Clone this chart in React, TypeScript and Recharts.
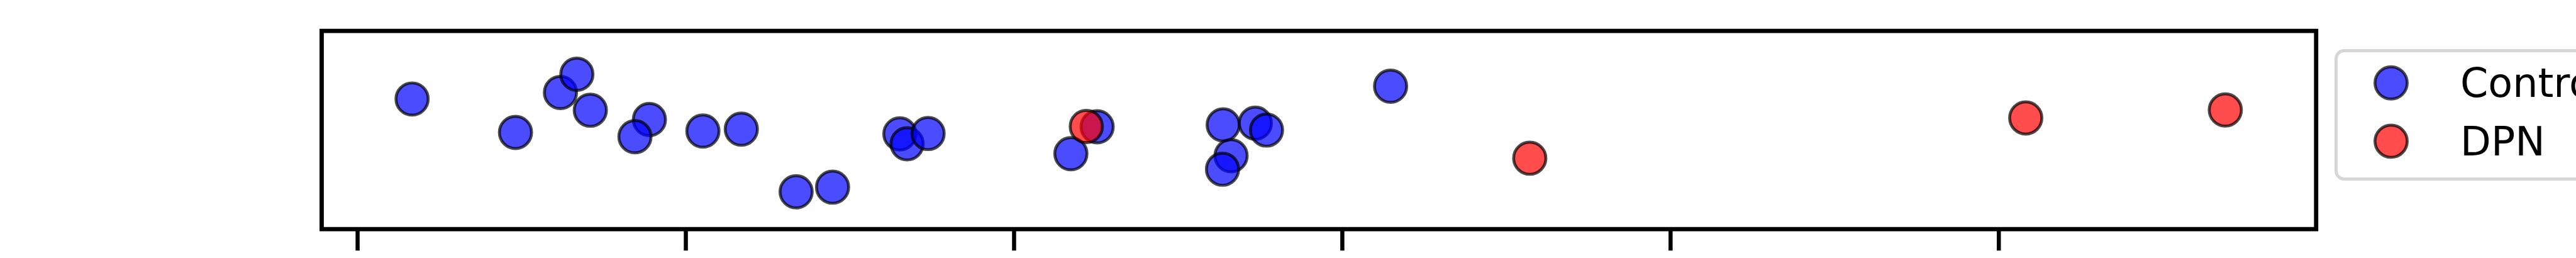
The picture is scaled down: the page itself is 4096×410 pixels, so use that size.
import React from 'react';
import { ScatterChart, Scatter, XAxis, YAxis, ReferenceArea, Legend } from 'recharts';

// x in tick units (ticks at 0..5), y is jitter in [-1, 1]
const controlX = [0.166, 0.481, 0.618, 0.668, 0.709, 0.889, 0.845, 1.052, 1.169, 1.336, 1.447, 1.652, 1.674, 1.738, 2.253, 2.173, 2.637, 2.735, 2.769, 2.661, 2.635, 3.147];
const controlY = [0.313, -0.024, 0.379, 0.563, 0.2, 0.106, -0.067, -0.01, 0.009, -0.623, -0.576, -0.039, -0.139, -0.035, 0.033, -0.239, 0.052, 0.069, 0.0, -0.259, -0.395, 0.442];
const dpnX = [2.22, 3.571, 5.082, 5.69];
const dpnY = [0.036, -0.284, 0.122, 0.202];
const xTicks = [0, 1, 2, 3, 4, 5];

const controlData = controlX.map((x, i) => ({ x, y: controlY[i] }));
const dpnData = dpnX.map((x, i) => ({ x, y: dpnY[i] }));

const X_MIN = -0.1094;
const X_MAX = 5.9667;

const R = 25.6;
const EDGE = 4.7;

const dot = (color: string) => (props: any) => (
  <circle
    cx={props.cx}
    cy={props.cy}
    r={R}
    fill={color}
    fillOpacity={0.7}
    stroke="#000"
    strokeOpacity={0.7}
    strokeWidth={EDGE}
  />
);

// tick labels are outside the picture, only the tick marks show
const noLabel = () => <g />;

const renderLegend = (props: any) => {
  const items = props.payload || [];
  return (
    <svg width={400} height={215} style={{ display: 'block' }}>
      <rect x={2.5} y={2.5} width={600} height={204} rx={13} fill="#fff" fillOpacity={0.8} stroke="#d6d6d6" strokeWidth={5} />
      {items.map((it: any, i: number) => (
        <g key={it.value}>
          <circle cx={90} cy={53.8 + i * 92.6} r={R} fill={it.color} fillOpacity={0.7} stroke="#000" strokeOpacity={0.7} strokeWidth={EDGE} />
          <text x={200} y={76 + i * 92.6} fontSize={63.5} fontFamily="DejaVu Sans" fill="#000">
            {it.value}
          </text>
        </g>
      ))}
    </svg>
  );
};

export default function App() {
  return (
    <div style={{ position: 'absolute', left: 0, top: 0, width: 4096, height: 410, overflow: 'hidden', background: '#fff' }}>
      <ScatterChart width={4096} height={410} margin={{ top: 49.1, right: 413.2, bottom: 11.8, left: 511.5 }}>
        <XAxis
          type="number"
          dataKey="x"
          domain={[X_MIN, X_MAX]}
          allowDataOverflow
          ticks={xTicks}
          interval={0}
          tick={noLabel}
          tickSize={34}
          height={34}
          axisLine={false}
          tickLine={{ stroke: '#000', strokeWidth: 6.5 }}
        />
        <YAxis type="number" dataKey="y" domain={[-1, 1]} allowDataOverflow hide />
        <ReferenceArea x1={X_MIN} x2={X_MAX} y1={-1} y2={1} fill="none" stroke="#000" strokeWidth={6.8} ifOverflow="visible" />
        <Legend
          layout="vertical"
          align="center"
          verticalAlign="middle"
          wrapperStyle={{ left: 3711.7, top: 78, width: 400, height: 215 }}
          content={renderLegend}
        />
        <Scatter name="Control" data={controlData} fill="#0000ff" shape={dot('#0000ff')} isAnimationActive={false} />
        <Scatter name="DPN" data={dpnData} fill="#ff0000" shape={dot('#ff0000')} isAnimationActive={false} />
      </ScatterChart>
    </div>
  );
}
